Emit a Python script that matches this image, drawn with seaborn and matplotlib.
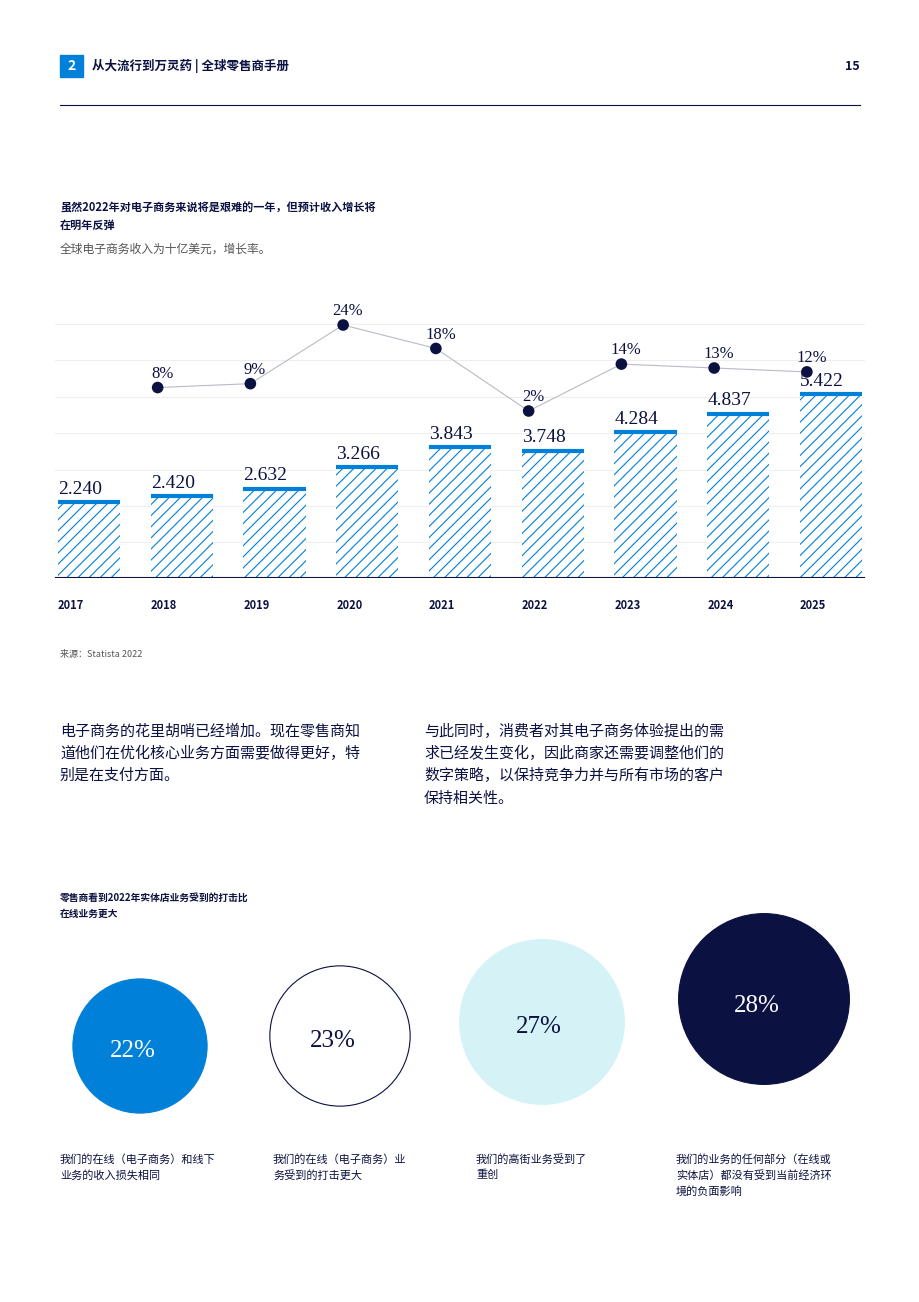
import matplotlib
matplotlib.use("Agg")
import matplotlib.pyplot as plt
import seaborn as sns
import pandas as pd
from matplotlib.patches import Circle, Rectangle

plt.rcParams["font.family"] = ["Noto Sans CJK SC", "DejaVu Sans"]
plt.rcParams["hatch.color"] = "#2E9BE6"
plt.rcParams["hatch.linewidth"] = 0.8

NAVY = "#0B1140"
BLUE = "#0080D8"
GREY = "#555555"

# data
years = ["2017", "2018", "2019", "2020", "2021", "2022", "2023", "2024", "2025"]
revenue = [2.240, 2.420, 2.632, 3.266, 3.843, 3.748, 4.284, 4.837, 5.422]
growth_years = years[1:]
growth = [8, 9, 24, 18, 2, 14, 13, 12]
circle_values = [22, 23, 27, 28]
circle_captions = [
    "我们的在线（电子商务）和线下\n业务的收入损失相同",
    "我们的在线（电子商务）业\n务受到的打击更大",
    "我们的高街业务受到了\n重创",
    "我们的业务的任何部分（在线或\n实体店）都没有受到当前经济环\n境的负面影响",
]

W, H = 920, 1302
fig = plt.figure(figsize=(W / 100, H / 100), dpi=100)


def t(x, y, s, **kw):
    fig.text(x / W, 1 - y / H, s, **kw)


# header
fig.patches.append(Rectangle((60 / W, 1 - 77 / H), 23 / W, 22 / H, transform=fig.transFigure, color=BLUE))
t(71.5, 66, "2", color="white", fontsize=10, fontweight="bold", ha="center", va="center")
t(92, 66, "从大流行到万灵药 | 全球零售商手册", color=NAVY, fontsize=9, fontweight="bold", va="center")
t(860, 66, "15", color=NAVY, fontsize=9, fontweight="bold", va="center", ha="right")
fig.add_artist(plt.Line2D([60 / W, 860 / W], [1 - 105 / H] * 2, color=NAVY, lw=0.8))

t(60, 208, "虽然2022年对电子商务来说将是艰难的一年，但预计收入增长将", color=NAVY, fontsize=8, fontweight="bold", va="center")
t(60, 225, "在明年反弹", color=NAVY, fontsize=8, fontweight="bold", va="center")
t(60, 249, "全球电子商务收入为十亿美元，增长率。", color=GREY, fontsize=8.5, va="center")

# bar chart
ax = fig.add_axes([55 / W, 1 - 578 / H, 810 / W, 288 / H])
df = pd.DataFrame({"year": years, "revenue": revenue})
sns.barplot(data=df, x="year", y="revenue", ax=ax, color="white", width=0.67,
            edgecolor=BLUE, hatch="///", linewidth=0, saturation=1)
unit = 92.75
ax.set_xlim(-(89 - 55) / unit, (865 - 89) / unit)
ax.set_ylim(0, 288 / 34)
for i, (p, v) in enumerate(zip(ax.patches, revenue)):
    x0 = p.get_x()
    ax.plot([x0, x0 + p.get_width()], [v, v], color=BLUE, lw=3, solid_capstyle="butt", zorder=3)
    ax.text(x0, v + 0.12, f"{v:.3f}", fontsize=14, color=NAVY, family="Liberation Serif", va="bottom")
    ax.text(x0, -0.8, years[i], fontsize=8, fontweight="bold", color=NAVY, ha="left", va="center")
for gy in [1.06, 2.13, 3.19, 4.26, 5.33, 6.4, 7.46]:
    ax.axhline(gy, color="#EEEEEE", lw=0.8, zorder=0)
ax.axhline(0, color=NAVY, lw=1.5)
for s in ax.spines.values():
    s.set_visible(False)
ax.set_yticks([])
ax.set_xticks([])
ax.set_xlabel("")
ax.set_ylabel("")

ax2 = ax.twinx()
gdf = pd.DataFrame({"x": [i - 0.26 for i in range(1, len(years))], "g": growth})
sns.lineplot(data=gdf, x="x", y="g", ax=ax2, color="#B8BBC8", lw=0.8)
sns.scatterplot(data=gdf, x="x", y="g", ax=ax2, color=NAVY, s=70, zorder=4, edgecolor="none")
# 24% at 325px, 2% at 411px
k = (411 - 325) / 22
ax2.set_ylim(2 - (578 - 411) / k, 2 + (411 - 290) / k)
for x, g in zip(gdf["x"], growth):
    ax2.text(x + 0.05, g + 1.5, f"{g}%", fontsize=12, color=NAVY, family="Liberation Serif", ha="center", va="bottom")
ax2.set_axis_off()

t(60, 654, "来源：Statista 2022", color=GREY, fontsize=6.5, va="center")

# paragraphs
p1 = ["电子商务的花里胡哨已经增加。现在零售商知", "道他们在优化核心业务方面需要做得更好，特", "别是在支付方面。"]
p2 = ["与此同时，消费者对其电子商务体验提出的需", "求已经发生变化，因此商家还需要调整他们的", "数字策略，以保持竞争力并与所有市场的客户", "保持相关性。"]
for i, line in enumerate(p1):
    t(60, 731 + i * 22.5, line, color=NAVY, fontsize=10.8, va="center")
for i, line in enumerate(p2):
    t(424, 731 + i * 22.5, line, color=NAVY, fontsize=10.8, va="center")

t(60, 898, "零售商看到2022年实体店业务受到的打击比", color=NAVY, fontsize=7, fontweight="bold", va="center")
t(60, 914, "在线业务更大", color=NAVY, fontsize=7, fontweight="bold", va="center")

# circles
cax = fig.add_axes([0, 0, 1, 1])
cax.set_xlim(0, W)
cax.set_ylim(H, 0)
cax.set_axis_off()
centers = [(140, 1046), (340, 1036), (542, 1022), (764, 999)]
fills = [BLUE, "white", "#D5F3F7", NAVY]
tcols = ["white", NAVY, NAVY, "white"]
toff = [(-7, 5), (-7, 5), (-3, 5), (-7, 7)]
for (cx, cy), v, fc, tc, (dx, dy) in zip(centers, circle_values, fills, tcols, toff):
    cax.add_patch(Circle((cx, cy), v * 3.05, facecolor=fc, edgecolor=NAVY if fc == "white" else fc, lw=0.8))
    cax.text(cx + dx, cy + dy, f"{v}%", color=tc, fontsize=18,
             family="Liberation Serif", ha="center", va="center")
cap_x = [60, 273, 476, 676]
for x, cap in zip(cap_x, circle_captions):
    t(x, 1154, cap, color=NAVY, fontsize=8, va="top", linespacing=1.6)

fig.savefig("out.png", dpi=100)
